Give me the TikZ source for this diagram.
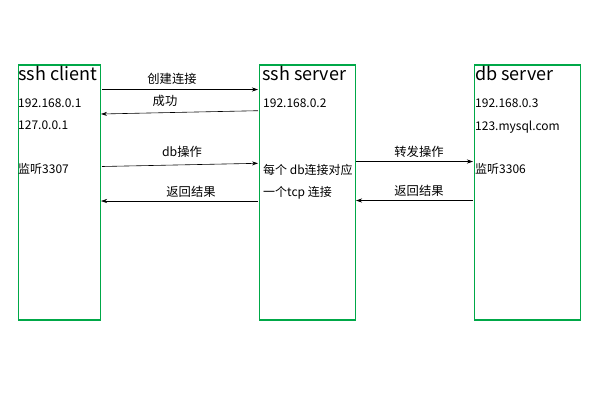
\documentclass[tikz,border=0pt]{standalone}
\usepackage{fontspec}
\setmainfont{Noto Sans CJK SC}
\usetikzlibrary{arrows.meta}
\definecolor{boxgreen}{RGB}{0,168,72}
\begin{document}
\begin{tikzpicture}[x=1pt,y=-1pt,
  hostbox/.style={draw=boxgreen,line width=1.4pt,inner sep=0pt,outer sep=0pt},
  title/.style={anchor=base west,inner sep=0pt,font=\fontsize{18}{20}\selectfont},
  info/.style={anchor=base west,inner sep=0pt,font=\fontsize{12}{14}\selectfont},
  lab/.style={inner sep=0pt,font=\fontsize{12.3}{14}\selectfont},
  msg/.style={line width=0.6pt,-{Stealth[length=6pt,width=4pt]}}]
\useasboundingbox (0,0) rectangle (600,400);
% boxes
\draw[hostbox] (18.5,65) rectangle (100.5,320);
\draw[hostbox] (259.5,65) rectangle (355.5,320);
\draw[hostbox] (474.5,65) rectangle (580.5,320);
% titles
\node[title] (t1) at (18,80) {ssh client};
\node[title] (t2) at (262,80) {ssh server};
\node[title] (t3) at (475,80) {db server};
% info texts
\node[info] (c1) at (18,107) {192.168.0.1};
\node[info] (c2) at (18,129) {127.0.0.1};
\node[info] (c3) at (18,173) {监听3307};
\node[info] (s1) at (263,107) {192.168.0.2};
\node[info] (s2) at (263,174) {每个 db连接对应};
\node[info] (s3) at (263,196) {一个tcp 连接};
\node[info] (d1) at (475,107) {192.168.0.3};
\node[info] (d2) at (475,130) {123.mysql.com};
\node[info] (d3) at (475,173) {监听3306};
% connector endpoints
\coordinate (a1s) at (102,89.5);   \coordinate (a1e) at (258,89.5);
\coordinate (a2s) at (258,110.7);  \coordinate (a2e) at (101,114);
\coordinate (a3s) at (102,166.5);  \coordinate (a3e) at (258,163.3);
\coordinate (a4s) at (258,201);    \coordinate (a4e) at (101,201);
\coordinate (a5s) at (356,161.5);  \coordinate (a5e) at (473,161.5);
\coordinate (a6s) at (473,200.5);  \coordinate (a6e) at (356,200.5);
\draw[msg] (a1s) -- (a1e);
\draw[msg] (a2s) -- (a2e);
\draw[msg] (a3s) -- (a3e);
\draw[msg] (a4s) -- (a4e);
\draw[msg] (a5s) -- (a5e);
\draw[msg] (a6s) -- (a6e);
% labels
\node[lab] (l1) at (172,79) {创建连接};
\node[lab] (l2) at (165,101) {成功};
\node[lab] (l3) at (182,152) {db操作};
\node[lab] (l4) at (191,192) {返回结果};
\node[lab] (l5) at (419,152) {转发操作};
\node[lab] (l6) at (419,191) {返回结果};
\end{tikzpicture}
\end{document}
